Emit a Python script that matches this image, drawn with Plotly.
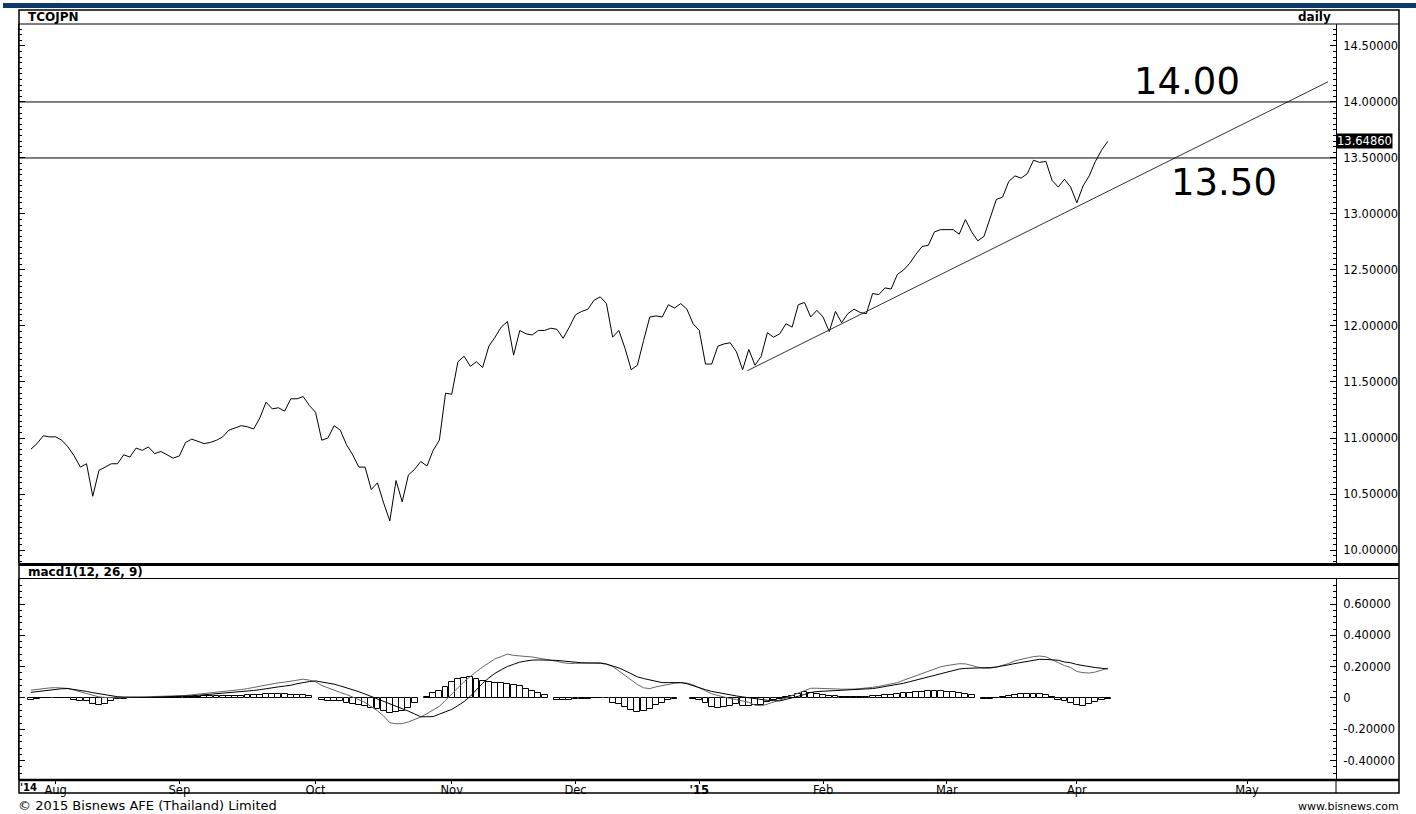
import pandas as pd
import plotly.graph_objects as go

# ---------------- data ----------------
holidays = ["2014-08-12", "2014-10-23", "2014-12-05", "2014-12-10",
            "2014-12-31", "2015-01-01", "2015-01-02", "2015-03-04"]

price = [10.90, 10.95, 11.02, 11.01, 11.01, 10.98, 10.92, 10.84, 10.74, 10.77,
         10.48, 10.71, 10.74, 10.77, 10.77, 10.85, 10.83, 10.91, 10.89, 10.92,
         10.86, 10.88, 10.85, 10.82, 10.84, 10.96, 10.99, 10.97, 10.95, 10.96,
         10.98, 11.01, 11.07, 11.09, 11.11, 11.10, 11.08, 11.18, 11.32, 11.26,
         11.27, 11.24, 11.35, 11.35, 11.37, 11.29, 11.23, 10.98, 11.00, 11.11,
         11.07, 10.94, 10.85, 10.74, 10.74, 10.54, 10.60, 10.42, 10.26, 10.62,
         10.43, 10.67, 10.72, 10.79, 10.75, 10.89, 10.98, 11.40, 11.39, 11.68,
         11.73, 11.64, 11.68, 11.63, 11.82, 11.90, 11.99, 12.04, 11.74, 11.96,
         11.93, 11.92, 11.96, 11.96, 11.98, 11.97, 11.89, 11.99, 12.10, 12.13,
         12.15, 12.23, 12.26, 12.20, 11.90, 11.96, 11.80, 11.61, 11.65, 11.87,
         12.08, 12.09, 12.08, 12.19, 12.16, 12.20, 12.15, 12.02, 11.96, 11.66,
         11.66, 11.82, 11.84, 11.85, 11.77, 11.61, 11.79, 11.65, 11.73, 11.94,
         11.90, 11.93, 12.02, 11.99, 12.19, 12.21, 12.08, 12.14, 12.08, 11.95,
         12.13, 12.03, 12.11, 12.15, 12.12, 12.11, 12.29, 12.28, 12.34, 12.33,
         12.46, 12.50, 12.56, 12.64, 12.71, 12.72, 12.84, 12.86, 12.86, 12.86,
         12.82, 12.95, 12.84, 12.76, 12.80, 12.96, 13.13, 13.15, 13.29, 13.34,
         13.32, 13.36, 13.48, 13.46, 13.47, 13.30, 13.24, 13.31, 13.24, 13.10,
         13.25, 13.34, 13.47, 13.57, 13.6486]

macd_line = [0.050, 0.056, 0.062, 0.064, 0.066, 0.065, 0.061, 0.050, 0.040, 0.027,
             0.016, 0.007, 0.003, 0.001, 0.001, 0.003, 0.004, 0.005, 0.006, 0.007,
             0.008, 0.009, 0.010, 0.011, 0.012, 0.016, 0.020, 0.024, 0.028, 0.032,
             0.036, 0.039, 0.043, 0.048, 0.054, 0.060, 0.067, 0.076, 0.085, 0.092,
             0.097, 0.101, 0.106, 0.113, 0.120, 0.114, 0.103, 0.080, 0.064, 0.048,
             0.035, 0.022, 0.008, -0.011, -0.029, -0.054, -0.082, -0.115, -0.158, -0.165,
             -0.164, -0.153, -0.138, -0.122, -0.100, -0.076, -0.053, -0.016, 0.022, 0.065,
             0.105, 0.140, 0.169, 0.198, 0.225, 0.250, 0.265, 0.280, 0.272, 0.267,
             0.265, 0.262, 0.256, 0.250, 0.242, 0.234, 0.225, 0.220, 0.221, 0.222,
             0.223, 0.224, 0.225, 0.218, 0.201, 0.173, 0.145, 0.116, 0.086, 0.065,
             0.060, 0.071, 0.079, 0.087, 0.094, 0.098, 0.095, 0.084, 0.064, 0.044,
             0.027, 0.016, 0.005, -0.004, -0.010, -0.018, -0.028, -0.046, -0.050, -0.039,
             -0.027, -0.015, 0.000, 0.016, 0.033, 0.048, 0.062, 0.062, 0.062, 0.060,
             0.058, 0.056, 0.055, 0.057, 0.060, 0.062, 0.068, 0.074, 0.081, 0.088,
             0.098, 0.113, 0.127, 0.141, 0.156, 0.170, 0.184, 0.199, 0.207, 0.213,
             0.219, 0.218, 0.207, 0.197, 0.190, 0.190, 0.197, 0.208, 0.220, 0.237,
             0.248, 0.256, 0.264, 0.268, 0.263, 0.245, 0.230, 0.207, 0.195, 0.169,
             0.162, 0.159, 0.166, 0.178, 0.190]

signal_line = [0.036, 0.041, 0.046, 0.051, 0.057, 0.059, 0.060, 0.055, 0.050, 0.042,
               0.034, 0.027, 0.019, 0.012, 0.008, 0.006, 0.004, 0.003, 0.004, 0.004,
               0.005, 0.005, 0.006, 0.007, 0.008, 0.011, 0.014, 0.017, 0.020, 0.024,
               0.027, 0.030, 0.033, 0.037, 0.040, 0.044, 0.048, 0.053, 0.060, 0.066,
               0.071, 0.076, 0.081, 0.091, 0.100, 0.105, 0.109, 0.103, 0.096, 0.088,
               0.077, 0.066, 0.054, 0.040, 0.025, 0.010, -0.004, -0.019, -0.035, -0.050,
               -0.066, -0.084, -0.102, -0.120, -0.120, -0.119, -0.103, -0.088, -0.073, -0.049,
               -0.023, 0.011, 0.055, 0.094, 0.128, 0.158, 0.180, 0.201, 0.215, 0.229,
               0.236, 0.242, 0.243, 0.243, 0.243, 0.240, 0.236, 0.231, 0.227, 0.225,
               0.224, 0.223, 0.222, 0.216, 0.204, 0.192, 0.174, 0.155, 0.135, 0.124,
               0.114, 0.104, 0.098, 0.098, 0.098, 0.098, 0.091, 0.077, 0.063, 0.053,
               0.042, 0.034, 0.027, 0.020, 0.013, 0.007, 0.001, -0.007, -0.012, -0.015,
               -0.017, -0.019, -0.009, 0.000, 0.011, 0.023, 0.035, 0.041, 0.043, 0.046,
               0.047, 0.049, 0.050, 0.052, 0.053, 0.055, 0.060, 0.066, 0.072, 0.078,
               0.084, 0.094, 0.104, 0.114, 0.125, 0.135, 0.146, 0.156, 0.168, 0.177,
               0.185, 0.189, 0.190, 0.190, 0.190, 0.194, 0.198, 0.203, 0.212, 0.220,
               0.227, 0.234, 0.240, 0.247, 0.246, 0.244, 0.241, 0.230, 0.225, 0.214,
               0.206, 0.199, 0.194, 0.190, 0.185]

histogram = [-0.010, -0.008, 0.002, 0.002, 0.002, 0.002, 0.002, -0.010, -0.017, -0.020,
             -0.040, -0.045, -0.040, -0.020, -0.008, -0.004, -0.002, 0.001, 0.001, 0.002,
             0.002, 0.003, 0.003, 0.003, 0.004, 0.006, 0.008, 0.009, 0.010, 0.010,
             0.010, 0.010, 0.010, 0.013, 0.015, 0.016, 0.018, 0.021, 0.024, 0.025,
             0.025, 0.024, 0.022, 0.020, 0.016, 0.010, None, -0.015, -0.017, -0.018,
             -0.020, -0.030, -0.040, -0.045, -0.050, -0.062, -0.072, -0.085, -0.098, -0.090,
             -0.080, -0.065, -0.030, None, 0.009, 0.030, 0.045, 0.072, 0.100, 0.120,
             0.130, 0.132, 0.120, 0.106, 0.100, 0.098, 0.095, 0.090, 0.085, 0.075,
             0.060, 0.045, 0.030, 0.018, None, -0.010, -0.013, -0.012, -0.008, -0.005,
             -0.004, 0.002, 0.002, 0.002, -0.030, -0.040, -0.055, -0.075, -0.090, -0.085,
             -0.068, -0.048, -0.030, -0.012, -0.004, None, None, -0.008, -0.013, -0.030,
             -0.055, -0.066, -0.060, -0.049, -0.040, -0.050, -0.052, -0.047, -0.045, -0.025,
             -0.012, -0.005, 0.004, 0.013, 0.028, 0.040, 0.034, 0.026, 0.020, 0.013,
             0.010, 0.008, 0.005, 0.004, 0.004, 0.006, 0.010, 0.015, 0.018, 0.022,
             0.025, 0.030, 0.032, 0.035, 0.037, 0.042, 0.047, 0.044, 0.040, 0.038,
             0.030, 0.026, 0.017, None, -0.008, -0.006, -0.002, 0.008, 0.012, 0.020,
             0.026, 0.026, 0.025, 0.024, 0.018, 0.008, -0.010, -0.020, -0.030, -0.048,
             -0.051, -0.040, -0.028, -0.012, -0.004]

levels = [14.00, 13.50]
trend_dates = ["2015-01-15 06:00", "2015-05-14 02:00"]
trend_values = [11.60, 14.18]

month_ticks = ["2014-08-01 12:00", "2014-09-01 12:00", "2014-10-01 12:00", "2014-11-03 12:00",
               "2014-12-01 12:00", "2015-01-05 12:00", "2015-02-02 12:00", "2015-03-02 12:00",
               "2015-04-01 12:00", "2015-05-01 00:00"]
month_labels = ["Aug", "Sep", "Oct", "Nov", "Dec", "<b>'15</b>", "Feb", "Mar", "Apr", "May"]
price_ticks = [10.0, 10.5, 11.0, 11.5, 12.0, 12.5, 13.0, 13.5, 14.0, 14.5]
macd_ticks = [-0.4, -0.2, 0.0, 0.2, 0.4, 0.6]
macd_tick_labels = ["-0.40000", "-0.20000", "0", "0.20000", "0.40000", "0.60000"]

# trading calendar (weekdays minus market holidays), points at mid-day
hol = pd.to_datetime(holidays)
tdays = pd.bdate_range("2014-07-28", "2015-04-08")
tdays = tdays[~tdays.isin(hol)]
dates = [d + pd.Timedelta(hours=12) for d in tdays]
assert len(dates) == len(price) == len(macd_line) == len(signal_line) == len(histogram)

# non-trading days removed from the axis (history only; the future is calendar days)
all_days = pd.date_range("2014-07-01", "2015-04-08")
hol_set = set(hol)
break_days = [d.strftime("%Y-%m-%d") for d in all_days if d.weekday() >= 5 or d in hol_set]
rbreaks = [dict(values=break_days, dvalue=86400000)]
x_range = ["2014-07-24 14:00", "2015-05-15 09:00"]

# ---------------- geometry ----------------
W, H = 1416, 814
L, R, T, B = 19, 80, 24, 34
PW, PH = W - L - R, H - T - B


def px(x):
    return (x - L) / PW


def py(y):
    return (H - B - y) / PH


FONT = "DejaVu Sans"
tickfont = dict(family=FONT, size=11.5, color="black")

fig = go.Figure()

fig.add_trace(go.Scatter(x=dates, y=price, mode="lines", line=dict(color="black", width=1),
                         xaxis="x", yaxis="y", hoverinfo="x+y"))
fig.add_trace(go.Scatter(x=trend_dates, y=trend_values, mode="lines",
                         line=dict(color="#333333", width=1), xaxis="x", yaxis="y"))

fig.add_trace(go.Bar(x=dates, y=histogram, width=0.95 * 86400000,
                     marker=dict(color="white", line=dict(color="black", width=1)),
                     xaxis="x2", yaxis="y2"))
fig.add_trace(go.Scatter(x=dates, y=macd_line, mode="lines", line=dict(color="#666666", width=1),
                         xaxis="x2", yaxis="y2"))
fig.add_trace(go.Scatter(x=dates, y=signal_line, mode="lines", line=dict(color="black", width=1),
                         xaxis="x2", yaxis="y2"))

shapes = []
# level lines
for lv in levels:
    shapes.append(dict(type="line", xref="paper", yref="y", x0=0, x1=1, y0=lv, y1=lv,
                       line=dict(color="black", width=1)))
# top navy band
shapes.append(dict(type="rect", xref="paper", yref="paper", x0=px(3), x1=px(1416), y0=py(8), y1=py(3),
                   fillcolor="#0b3a6a", line=dict(width=0), layer="above"))
# outer frame
shapes.append(dict(type="rect", xref="paper", yref="paper", x0=0, x1=px(1399), y0=py(793), y1=py(10),
                   line=dict(color="black", width=1.5)))
# header bottom
shapes.append(dict(type="line", xref="paper", yref="paper", x0=0, x1=px(1399), y0=py(24), y1=py(24),
                   line=dict(color="black", width=1)))
# separator between panels
shapes.append(dict(type="line", xref="paper", yref="paper", x0=0, x1=px(1399), y0=py(564.5), y1=py(564.5),
                   line=dict(color="black", width=3)))
# macd header bottom
shapes.append(dict(type="line", xref="paper", yref="paper", x0=0, x1=px(1399), y0=py(578.5), y1=py(578.5),
                   line=dict(color="black", width=1)))
# bottom of macd panel
shapes.append(dict(type="line", xref="paper", yref="paper", x0=0, x1=px(1399), y0=0, y1=0,
                   line=dict(color="black", width=2.5)))
# divider in date row
shapes.append(dict(type="line", xref="paper", yref="paper", x0=1, x1=1, y0=py(793), y1=0,
                   line=dict(color="black", width=1)))

hdr = dict(family=FONT, size=12, color="black")
annotations = [
    dict(text="<b>TCOJPN</b>", xref="paper", yref="paper", x=px(26), y=py(17), xanchor="left",
         yanchor="middle", showarrow=False, font=hdr),
    dict(text="<b>daily</b>", xref="paper", yref="paper", x=px(1333), y=py(17), xanchor="right",
         yanchor="middle", showarrow=False, font=hdr),
    dict(text="<b>macd1(12, 26, 9)</b>", xref="paper", yref="paper", x=px(26), y=py(572), xanchor="left",
         yanchor="middle", showarrow=False, font=hdr),
    dict(text="<b>'14</b>", xref="paper", yref="paper", x=px(18), y=py(787.5), xanchor="left",
         yanchor="middle", showarrow=False, font=dict(family=FONT, size=10, color="black")),
    dict(text="© 2015 Bisnews AFE (Thailand) Limited", xref="paper", yref="paper", x=px(16), y=py(805),
         xanchor="left", yanchor="middle", showarrow=False, font=dict(family=FONT, size=13, color="black")),
    dict(text="www.bisnews.com", xref="paper", yref="paper", x=px(1401), y=py(806),
         xanchor="right", yanchor="middle", showarrow=False, font=dict(family=FONT, size=11, color="black")),
    dict(text=f"{price[-1]:.5f}", xref="paper", yref="y", x=1, y=price[-1], xanchor="left",
         yanchor="middle", showarrow=False, bgcolor="black", borderpad=0,
         font=dict(family=FONT, size=11.5, color="white")),
    dict(text=f"{levels[0]:.2f}", xref="paper", yref="y", x=px(1187), y=14.18, xanchor="center",
         yanchor="middle", showarrow=False, font=dict(family=FONT, size=37, color="black")),
    dict(text=f"{levels[1]:.2f}", xref="paper", yref="y", x=px(1224), y=13.277, xanchor="center",
         yanchor="middle", showarrow=False, font=dict(family=FONT, size=37, color="black")),
]

fig.update_layout(
    width=W, height=H,
    margin=dict(l=L, r=R, t=T, b=B),
    paper_bgcolor="white", plot_bgcolor="white",
    showlegend=False, bargap=0,
    shapes=shapes, annotations=annotations,
    xaxis=dict(domain=[0, 1], anchor="y", range=x_range, rangebreaks=rbreaks,
               showticklabels=False, ticks="", showline=False, showgrid=False, zeroline=False),
    xaxis2=dict(domain=[0, 1], anchor="y2", range=x_range, rangebreaks=rbreaks,
                tickmode="array", tickvals=month_ticks, ticktext=month_labels,
                ticks="outside", ticklen=3, tickcolor="black", tickfont=tickfont,
                ticklabelstandoff=-4,
                showline=False, showgrid=False, zeroline=False),
    yaxis=dict(domain=[py(563), 1], anchor="x", range=[9.884, 14.696], side="right",
               tickmode="array", tickvals=price_ticks, ticktext=[f"{v:.5f}" for v in price_ticks],
               ticks="inside", ticklen=6, tickcolor="black", tickfont=tickfont, ticklabelstandoff=4,
               minor=dict(tickmode="linear", tick0=0, dtick=0.05, ticks="inside", ticklen=3,
                          tickcolor="black", showgrid=False),
               showline=True, linecolor="black", linewidth=1, mirror="ticks",
               showgrid=False, zeroline=False),
    yaxis2=dict(domain=[0, py(579)], anchor="x2", range=[-0.524, 0.760], side="right",
                tickmode="array", tickvals=macd_ticks, ticktext=macd_tick_labels,
                ticks="inside", ticklen=6, tickcolor="black", tickfont=tickfont, ticklabelstandoff=4,
                minor=dict(tickmode="linear", tick0=0, dtick=0.04, ticks="inside", ticklen=3,
                           tickcolor="black", showgrid=False),
                showline=True, linecolor="black", linewidth=1, mirror="ticks",
                showgrid=False, zeroline=False),
)

fig.write_html("out.html", config={"displayModeBar": False},
               post_script="document.body.style.margin='0px';")
